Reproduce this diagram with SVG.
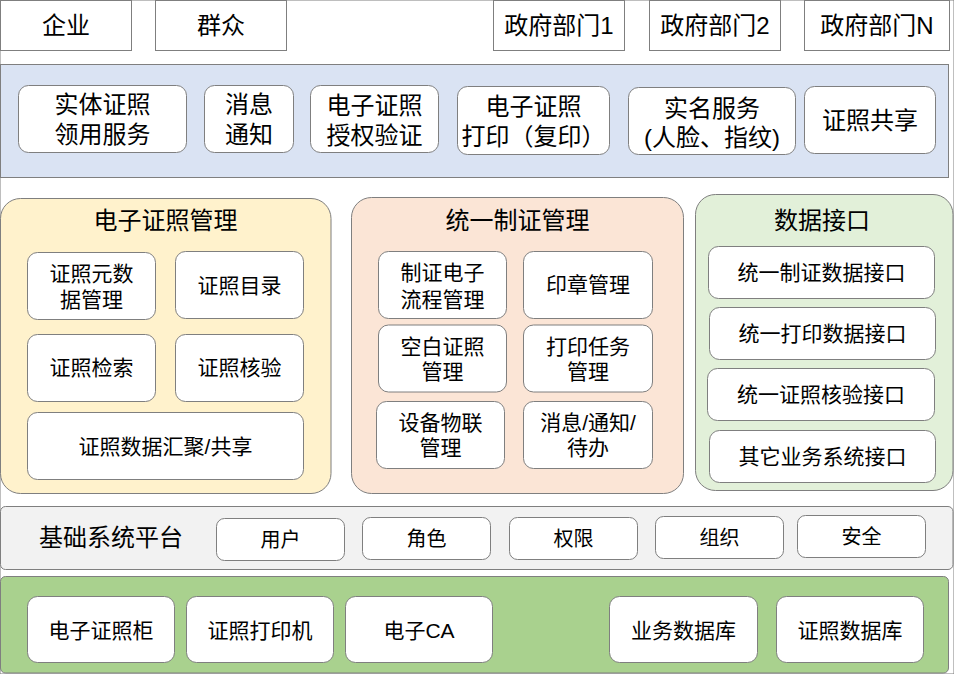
<svg xmlns="http://www.w3.org/2000/svg" width="954" height="674" viewBox="0 0 954 674">
<style>
rect{stroke:#7f7f7f;stroke-width:1}
.w{fill:#fff}
text{font-family:"Liberation Sans","Noto Sans CJK SC",sans-serif;fill:#000;text-anchor:middle;dominant-baseline:central}
.L{font-size:24px}
.M{font-size:21px}
.S{font-size:20px}
</style>
<rect x="0" y="0" width="954" height="674" fill="#fff" stroke="none"/>
<g id="connectors"/>
<!-- top row -->
<g id="qiye"><rect class="w" x="0.5" y="0.5" width="131" height="50"/><text class="L" x="66" y="25.5">企业</text></g>
<g id="qunzhong"><rect class="w" x="155.5" y="0.5" width="131" height="50"/><text class="L" x="221" y="25.5">群众</text></g>
<g id="zf1"><rect class="w" x="493.5" y="0.5" width="131" height="50"/><text class="L" x="559" y="25.5">政府部门1</text></g>
<g id="zf2"><rect class="w" x="649.5" y="0.5" width="131" height="50"/><text class="L" x="715" y="25.5">政府部门2</text></g>
<g id="zfN"><rect class="w" x="804.5" y="0.5" width="145" height="50"/><text class="L" x="877" y="25.5">政府部门N</text></g>
<!-- service band -->
<g id="service-band"><rect x="0.5" y="64.5" width="948" height="113" fill="#dae3f3"/></g>
<g id="stlyfw"><rect class="w" x="18.5" y="85.5" width="168" height="67" rx="10"/><text class="L" x="102.5" y="104.5">实体证照</text><text class="L" x="102.5" y="134">领用服务</text></g>
<g id="xxtz"><rect class="w" x="204.5" y="85.5" width="89" height="67" rx="10"/><text class="L" x="249" y="104">消息</text><text class="L" x="249" y="134">通知</text></g>
<g id="sqyz"><rect class="w" x="310.5" y="85.5" width="128" height="67" rx="10"/><text class="L" x="374.5" y="105">电子证照</text><text class="L" x="374.5" y="135">授权验证</text></g>
<g id="dyfy"><rect class="w" x="457.5" y="86.5" width="152" height="68" rx="10"/><text class="L" x="533.5" y="106">电子证照</text><text class="L" x="533.5" y="136">打印（复印）</text></g>
<g id="smfw"><rect class="w" x="628.5" y="87.5" width="167" height="67" rx="10"/><text class="L" x="712" y="108">实名服务</text><text class="L" x="712" y="137.5">(人脸、指纹)</text></g>
<g id="zzgx"><rect class="w" x="804.5" y="86.5" width="131" height="67" rx="10"/><text class="L" x="870" y="120">证照共享</text></g>
<!-- panel 1 -->
<g id="dzzzgl"><rect x="0.5" y="198.5" width="330.5" height="295" rx="20" fill="#fff2cc"/><text class="L" x="165.5" y="220">电子证照管理</text></g>
<g id="ysjgl"><rect class="w" x="27.5" y="252.5" width="128" height="67" rx="10"/><text class="M" x="91.5" y="273">证照元数</text><text class="M" x="91.5" y="299">据管理</text></g>
<g id="zzml"><rect class="w" x="175.5" y="251.5" width="128" height="67" rx="10"/><text class="M" x="239.5" y="285">证照目录</text></g>
<g id="zzjs"><rect class="w" x="27.5" y="334.5" width="128" height="67" rx="10"/><text class="M" x="91.5" y="367.5">证照检索</text></g>
<g id="zzhy"><rect class="w" x="175.5" y="334.5" width="128" height="67" rx="10"/><text class="M" x="239.5" y="367.5">证照核验</text></g>
<g id="hjgx"><rect class="w" x="27.5" y="412.5" width="276" height="67" rx="10"/><text class="M" x="165.5" y="446">证照数据汇聚/共享</text></g>
<!-- panel 2 -->
<g id="tyzzgl"><rect x="351.5" y="197.5" width="332" height="296" rx="20" fill="#fbe5d6"/><text class="L" x="517.5" y="220">统一制证管理</text></g>
<g id="lcgl"><rect class="w" x="378.5" y="251.5" width="128" height="67" rx="10"/><text class="M" x="442.5" y="272.5">制证电子</text><text class="M" x="442.5" y="299">流程管理</text></g>
<g id="yzgl"><rect class="w" x="523.5" y="251.5" width="129" height="67" rx="10"/><text class="M" x="588" y="284">印章管理</text></g>
<g id="kbzz"><rect class="w" x="378.5" y="325" width="128" height="67" rx="10"/><text class="M" x="442.5" y="346">空白证照</text><text class="M" x="442.5" y="371">管理</text></g>
<g id="dyrw"><rect class="w" x="523.5" y="325" width="129" height="67" rx="10"/><text class="M" x="588" y="346">打印任务</text><text class="M" x="588" y="371">管理</text></g>
<g id="sbwl"><rect class="w" x="376.5" y="401.5" width="128" height="67" rx="10"/><text class="M" x="440.5" y="422.5">设备物联</text><text class="M" x="440.5" y="447.5">管理</text></g>
<g id="xxdb"><rect class="w" x="523.5" y="401.5" width="129" height="67" rx="10"/><text class="M" x="588" y="422.5">消息/通知/</text><text class="M" x="588" y="447.5">待办</text></g>
<!-- panel 3 -->
<g id="sjjk"><rect x="695.5" y="194.5" width="257.5" height="296" rx="20" fill="#e2f0d9"/><text class="L" x="822" y="220">数据接口</text></g>
<g id="jk1"><rect class="w" x="708.5" y="246.5" width="226" height="52" rx="10"/><text class="M" x="821.5" y="272.5">统一制证数据接口</text></g>
<g id="jk2"><rect class="w" x="709.5" y="307.5" width="226" height="52" rx="10"/><text class="M" x="822.5" y="333.5">统一打印数据接口</text></g>
<g id="jk3"><rect class="w" x="707.5" y="368.5" width="227" height="52" rx="10"/><text class="M" x="821" y="394">统一证照核验接口</text></g>
<g id="jk4"><rect class="w" x="709.5" y="430.5" width="226" height="52" rx="10"/><text class="M" x="822.5" y="456">其它业务系统接口</text></g>
<!-- base platform -->
<g id="jcpt"><rect x="0.5" y="506.5" width="952.5" height="63" rx="5" fill="#f2f2f2"/><text class="L" x="111" y="537">基础系统平台</text></g>
<g id="yh"><rect class="w" x="216.5" y="518.5" width="128" height="42" rx="8"/><text class="S" x="280.5" y="540">用户</text></g>
<g id="js"><rect class="w" x="362.5" y="517.5" width="128" height="42" rx="8"/><text class="S" x="426.5" y="539">角色</text></g>
<g id="qx"><rect class="w" x="509.5" y="517.5" width="128" height="42" rx="8"/><text class="S" x="573.5" y="539">权限</text></g>
<g id="zz"><rect class="w" x="655.5" y="516.5" width="128" height="42" rx="8"/><text class="S" x="719.5" y="538">组织</text></g>
<g id="aq"><rect class="w" x="797.5" y="515.5" width="128" height="42" rx="8"/><text class="S" x="861.5" y="537">安全</text></g>
<!-- infrastructure -->
<g id="infra"><rect x="0.5" y="576.5" width="948" height="96.5" rx="5" fill="#a9d18e"/></g>
<g id="zzg"><rect class="w" x="27.5" y="596.5" width="147" height="66" rx="10"/><text class="M" x="101" y="630">电子证照柜</text></g>
<g id="dyj"><rect class="w" x="186.5" y="596.5" width="147" height="66" rx="10"/><text class="M" x="260" y="630">证照打印机</text></g>
<g id="ca"><rect class="w" x="345.5" y="596.5" width="147" height="66" rx="10"/><text class="M" x="419" y="630">电子CA</text></g>
<g id="ywsjk"><rect class="w" x="609.5" y="596.5" width="148" height="66" rx="10"/><text class="M" x="683.5" y="630">业务数据库</text></g>
<g id="zzsjk"><rect class="w" x="776.5" y="596.5" width="147" height="66" rx="10"/><text class="M" x="850" y="630">证照数据库</text></g>
</svg>
